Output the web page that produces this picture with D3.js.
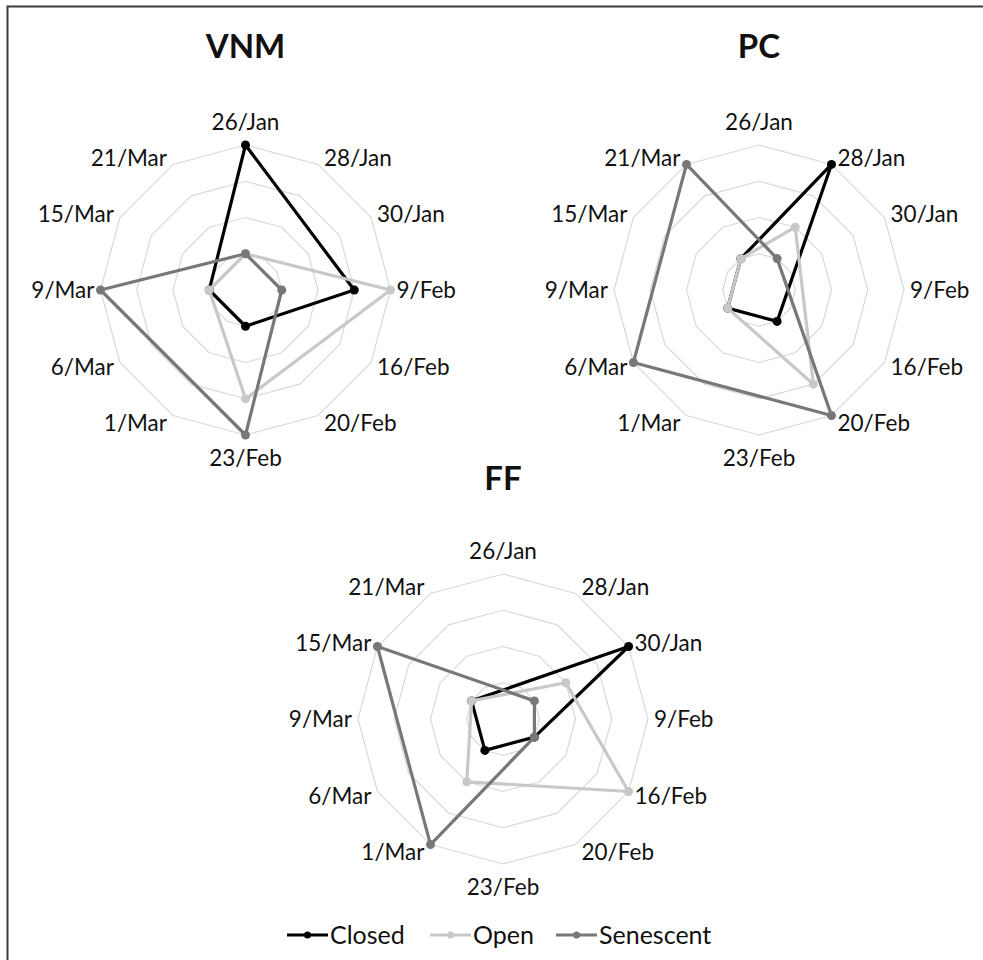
<!DOCTYPE html>
<html>
<head>
<meta charset="utf-8">
<script src="https://cdn.jsdelivr.net/npm/d3@7"></script>
<style>
  html, body { margin: 0; padding: 0; background: #fff; }
  svg { display: block; }
  text { font-family: Lato, "Open Sans", sans-serif; fill: #111; }
</style>
</head>
<body>
<svg id="chart" width="983" height="960"></svg>
<script>
// Sampling dates, one spoke each, clockwise from the top
const dates = ["26/Jan", "28/Jan", "30/Jan", "9/Feb", "16/Feb", "20/Feb",
               "23/Feb", "1/Mar", "6/Mar", "9/Mar", "15/Mar", "21/Mar"];

const seriesNames = ["Closed", "Open", "Senescent"];
const seriesColors = ["#000000", "#c8c8c8", "#787878"];

// Rank values per site (null = not sampled for that date)
const vnmClosed    = [4, null, null, 3, null, null, 1, null, null, 1, null, null];
const vnmOpen      = [1, null, null, 4, null, null, 3, null, null, 1, null, null];
const vnmSenescent = [1, null, null, 1, null, null, 4, null, null, 4, null, null];

const pcClosed     = [null, 4, null, null, null, 1, null, null, 1, null, null, 1];
const pcOpen       = [null, 2, null, null, null, 3, null, null, 1, null, null, 1];
const pcSenescent  = [null, 1, null, null, null, 4, null, null, 4, null, null, 4];

const ffClosed     = [null, null, 4, null, 1, null, null, 1, null, null, 1, null];
const ffOpen       = [null, null, 2, null, 4, null, null, 2, null, null, 1, null];
const ffSenescent  = [null, null, 1, null, 1, null, null, 4, null, null, 4, null];

const gridLevels = [1, 2, 3, 4];

const panels = [
  { title: "VNM", cx: 245.5, cy: 290, titleY: 58, series: [vnmClosed, vnmOpen, vnmSenescent] },
  { title: "PC",  cx: 759,   cy: 290, titleY: 58, series: [pcClosed, pcOpen, pcSenescent] },
  { title: "FF",  cx: 503,   cy: 719, titleY: 490, series: [ffClosed, ffOpen, ffSenescent] }
];

const svg = d3.select("#chart");
const R = 145;

// Frame (only its top and left edges fall inside the view)
svg.append("rect")
  .attr("x", 7.5).attr("y", 6.5)
  .attr("width", 1000).attr("height", 1000)
  .attr("fill", "none").attr("stroke", "#3a3a3a").attr("stroke-width", 2);

const rScale = d3.scaleLinear().domain([0, 4]).range([0, R]);
const aScale = d3.scaleLinear().domain([0, dates.length]).range([0, 2 * Math.PI]);

panels.forEach(p => {
  const g = svg.append("g").attr("transform", `translate(${p.cx},${p.cy})`);

  // Title
  svg.append("text")
    .attr("x", p.cx).attr("y", p.titleY)
    .attr("text-anchor", "middle")
    .style("font-size", "33px").style("font-weight", "bold")
    .text(p.title);

  // Concentric polygon grid
  const gridLine = d3.lineRadial()
    .angle((d, i) => aScale(i))
    .radius(d => rScale(d))
    .curve(d3.curveLinearClosed);
  gridLevels.forEach(lv => {
    g.append("path")
      .attr("d", gridLine(dates.map(() => lv)))
      .attr("fill", "none")
      .attr("stroke", "#d9d9d9")
      .attr("stroke-width", 1.2);
  });

  // Spoke labels
  dates.forEach((lab, i) => {
    const a = aScale(i);
    const s = Math.sin(a), c = Math.cos(a);
    const px = rScale(4) * s, py = -rScale(4) * c;
    let x, y, anchor;
    if (Math.abs(s) < 0.01) {
      x = px; y = py - c * 23; anchor = "middle";
    } else {
      x = px + Math.sign(s) * 6; y = py - c * 8; anchor = s > 0 ? "start" : "end";
    }
    g.append("text")
      .attr("x", x).attr("y", y).attr("dy", "0.36em")
      .attr("text-anchor", anchor)
      .style("font-size", "22.5px")
      .text(lab);
  });

  // Series polygons connecting the sampled dates
  const line = d3.lineRadial()
    .angle(d => aScale(d.i))
    .radius(d => rScale(d.v))
    .curve(d3.curveLinearClosed);

  p.series.forEach((vals, k) => {
    const pts = vals.map((v, i) => ({ i, v })).filter(d => d.v != null);
    g.append("path")
      .attr("d", line(pts))
      .attr("fill", "none")
      .attr("stroke", seriesColors[k])
      .attr("stroke-width", 3.2)
      .attr("stroke-linejoin", "round");
    g.selectAll(null).data(pts).enter().append("circle")
      .attr("cx", d => rScale(d.v) * Math.sin(aScale(d.i)))
      .attr("cy", d => -rScale(d.v) * Math.cos(aScale(d.i)))
      .attr("r", 4.5)
      .attr("fill", seriesColors[k]);
  });
});

// Legend
const legendX = [287, 430, 556];
const legendY = 935;
const lg = svg.append("g");
seriesNames.forEach((name, k) => {
  const x0 = legendX[k];
  lg.append("line")
    .attr("x1", x0).attr("x2", x0 + 41)
    .attr("y1", legendY).attr("y2", legendY)
    .attr("stroke", seriesColors[k]).attr("stroke-width", 3.2);
  lg.append("circle")
    .attr("cx", x0 + 20.5).attr("cy", legendY)
    .attr("r", 3.5).attr("fill", seriesColors[k]);
  lg.append("text")
    .attr("x", x0 + 43).attr("y", legendY).attr("dy", "0.36em")
    .style("font-size", "25px")
    .text(name);
});
</script>
</body>
</html>
